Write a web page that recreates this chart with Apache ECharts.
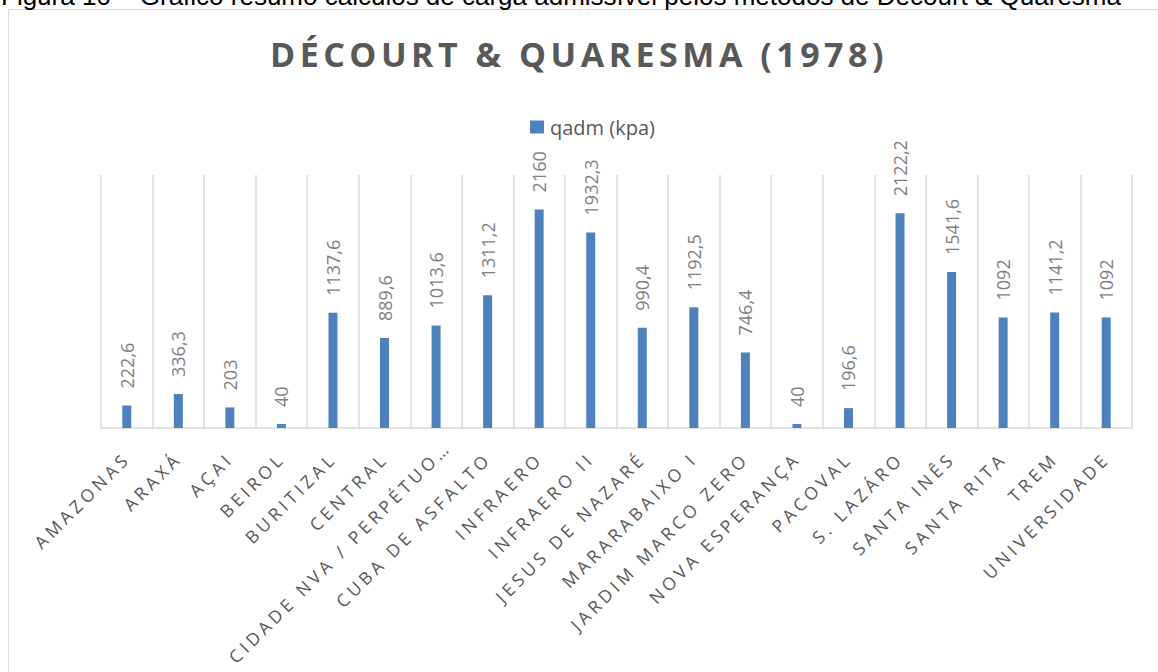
<!DOCTYPE html>
<html>
<head>
<meta charset="utf-8">
<script src="https://cdn.jsdelivr.net/npm/echarts@6/dist/echarts.min.js"></script>
<style>
  html, body { margin: 0; padding: 0; background: #fff; }
  #chart { width: 1158px; height: 672px; }
  /* Excel style: expanded character spacing on title and category labels */
  #chart text[style*="34px"] { letter-spacing: 4.5px; }
  #chart text[style*="17.5px"] { letter-spacing: 4px; }
</style>
</head>
<body>
<div id="chart"></div>
<script>
var caption = "Figura 10 – Gráfico resumo cálculos de carga admissível pelos métodos de Décourt & Quaresma";
var seriesName = "qadm (kpa)";

var categories = [
  "AMAZONAS", "ARAXÁ", "AÇAI", "BEIROL", "BURITIZAL", "CENTRAL",
  "CIDADE NVA / PERPÉTUO…", "CUBA DE ASFALTO", "INFRAERO", "INFRAERO II",
  "JESUS DE NAZARÉ", "MARARABAIXO I", "JARDIM MARCO ZERO", "NOVA ESPERANÇA",
  "PACOVAL", "S. LAZÁRO", "SANTA INÊS", "SANTA RITA", "TREM", "UNIVERSIDADE"
];
var qadm = [
  222.6, 336.3, 203, 40, 1137.6, 889.6,
  1013.6, 1311.2, 2160, 1932.3,
  990.4, 1192.5, 746.4, 40,
  196.6, 2122.2, 1541.6, 1092, 1141.2, 1092
];

// Excel pushes the truncated label a little further up-right than the others
var axisData = categories.map(function (c) {
  if (c.slice(-1) === "…") {
    return { value: c, textStyle: { padding: [0, -16, 0, 0] } };
  }
  return c;
});

var chart = echarts.init(document.getElementById("chart"), null, { renderer: "svg" });

var option = {
  backgroundColor: "#ffffff",
  animation: false,
  title: {
    text: "DÉCOURT & QUARESMA (1978)",
    left: "center",
    top: 32,
    textStyle: {
      fontFamily: "Open Sans",
      fontSize: 34,
      fontWeight: "bold",
      color: "#595959"
    }
  },
  legend: {
    data: [seriesName],
    left: 525,
    top: 112,
    itemWidth: 14,
    itemHeight: 13,
    icon: "rect",
    textStyle: { fontFamily: "Open Sans", fontSize: 20, color: "#595959", padding: [0, 0, 0, 1] }
  },
  graphic: [
    {
      type: "rect",
      shape: { x: 8.5, y: 9.5, width: 1200, height: 700 },
      style: { fill: "none", stroke: "#d9d9d9", lineWidth: 1 },
      silent: true
    },
    {
      type: "text",
      x: 1,
      y: -4,
      style: {
        text: caption,
        font: "26px 'Liberation Sans'",
        fill: "#000000",
        verticalAlign: "middle"
      },
      silent: true
    }
  ],
  grid: { left: 101, right: 26, top: 175, bottom: 244, containLabel: false },
  xAxis: {
    type: "category",
    data: axisData,
    axisLine: { show: true, lineStyle: { color: "#d9d9d9", width: 1.5 } },
    axisTick: { show: false },
    splitLine: { show: true, lineStyle: { color: "#d9d9d9", width: 1.5 } },
    axisLabel: {
      interval: 0,
      rotate: 45,
      margin: 27,
      fontFamily: "Open Sans",
      fontSize: 17.5,
      color: "#595959"
    }
  },
  yAxis: {
    type: "value",
    min: 0,
    max: 2500,
    show: false,
    splitLine: { show: false }
  },
  series: [
    {
      name: seriesName,
      type: "bar",
      data: qadm,
      barWidth: 9,
      itemStyle: { color: "#4f81bd" },
      label: {
        show: true,
        position: "top",
        rotate: 90,
        align: "left",
        verticalAlign: "middle",
        distance: 17,
        fontFamily: "Open Sans",
        fontSize: 18,
        color: "#7f7f7f",
        formatter: function (p) {
          return String(p.value).replace(".", ",");
        }
      }
    }
  ]
};

chart.setOption(option);
</script>
</body>
</html>
